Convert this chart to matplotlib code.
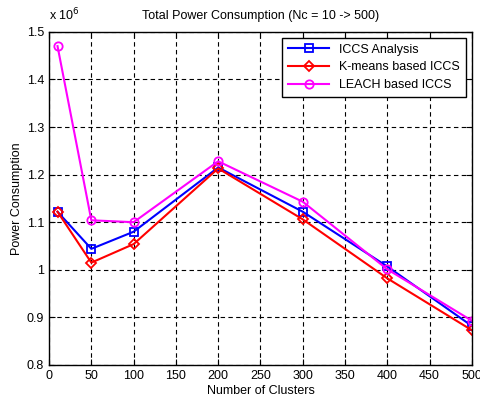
import matplotlib.pyplot as plt
import numpy as np

plt.rcParams['font.family'] = ['Liberation Sans', 'DejaVu Sans']
plt.rcParams['font.size'] = 9

# Число кластеров
clusters = [10, 50, 100, 200, 300, 400, 500]

# Потребляемая мощность (x 10^6)
iccs = [1.122, 1.044, 1.080, 1.215, 1.122, 1.007, 0.882]
kmeans = [1.122, 1.015, 1.054, 1.213, 1.106, 0.982, 0.873]
leach = [1.470, 1.104, 1.100, 1.228, 1.143, 1.001, 0.893]

fig = plt.figure(figsize=(4.81, 3.98), dpi=100)
ax = fig.add_axes([0.102, 0.083, 0.879, 0.837])

scale = 1e6
ax.plot(clusters, np.array(iccs) * scale, color='blue', marker='s', mfc='none',
        ms=6, mew=1.3, lw=1.5, label='ICCS Analysis')
ax.plot(clusters, np.array(kmeans) * scale, color='red', marker='D', mfc='none',
        ms=5, mew=1.3, lw=1.5, label='K-means based ICCS')
ax.plot(clusters, np.array(leach) * scale, color='magenta', marker='o', mfc='none',
        ms=6, mew=1.3, lw=1.5, label='LEACH based ICCS')

ax.set_xlim(0, 500)
ax.set_ylim(0.8e6, 1.5e6)
ax.set_xticks(np.arange(0, 501, 50))
ax.set_yticks(np.arange(0.8e6, 1.51e6, 0.1e6))
ax.set_yticklabels(['0.8', '0.9', '1', '1.1', '1.2', '1.3', '1.4', '1.5'])
ax.tick_params(direction='in', length=4, top=True, right=True, labelsize=9)
ax.grid(True, color='black', linestyle=(0, (4, 3)), linewidth=0.8)
for s in ax.spines.values():
    s.set_linewidth(1.0)

ax.text(0.0, 1.025, r'x 10$^6$', transform=ax.transAxes, fontsize=9, ha='left', va='bottom')
ax.set_title('Total Power Consumption (Nc = 10 -> 500)', fontsize=9, pad=9)
ax.set_xlabel('Number of Clusters', fontsize=9, labelpad=2)
ax.set_ylabel('Power Consumption', fontsize=9, labelpad=3)

leg = ax.legend(loc='upper right', fontsize=9, fancybox=False, framealpha=1,
                edgecolor='black', borderaxespad=0.5, handlelength=3.3,
                borderpad=0.45, labelspacing=0.45)
leg.get_frame().set_linewidth(1.0)

fig.savefig('out.png', dpi=100)
